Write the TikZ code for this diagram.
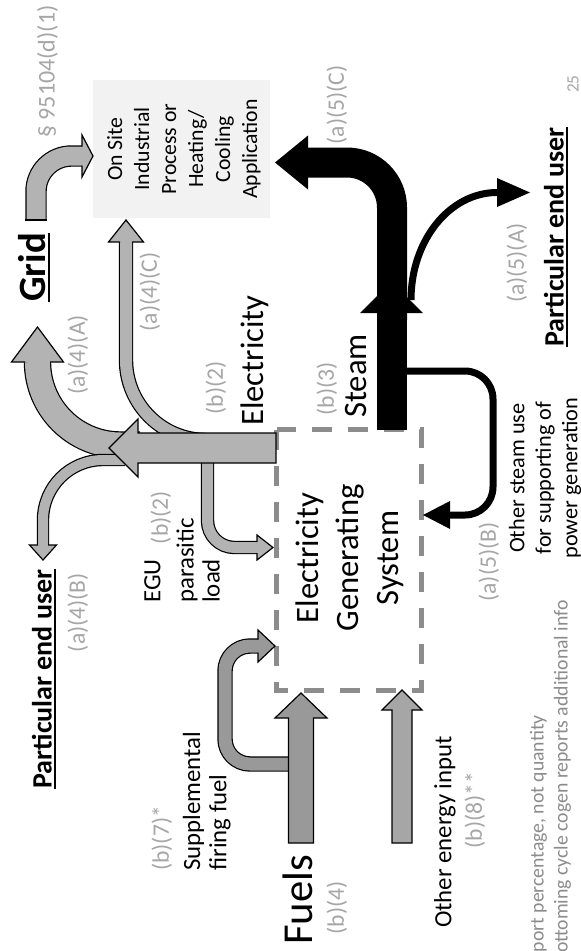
\documentclass[tikz,border=0pt]{standalone}
\usepackage{fontspec}
\setmainfont{Carlito}
\definecolor{lblgray}{HTML}{A6A6A6}
\definecolor{elec}{HTML}{B3B3B3}
\definecolor{fuel}{HTML}{999999}
\definecolor{otherg}{HTML}{A6A6A6}
\definecolor{dashgray}{HTML}{8C8C8C}
\definecolor{onsitefill}{HTML}{F2F2F2}
\definecolor{footgray}{HTML}{8C8C8C}
\begin{document}
\begin{tikzpicture}[x=0.75pt,y=-0.75pt,line join=miter,
  lbl/.style={rotate=90,inner sep=0pt,text=lblgray,font=\fontsize{17.7}{21}\selectfont},
  txt/.style={rotate=90,inner sep=0pt,text=black},
  mid/.style={txt,font=\fontsize{18.6}{22}\selectfont},
  big/.style={txt,font=\fontsize{24.5}{30}\selectfont},
  boldtxt/.style={txt,font=\bfseries\fontsize{21}{25}\selectfont},
  outl/.style={draw=black,line width=0.9pt},
  band/.style 2 args={draw=#2,line width=#1,preaction={draw=black,line width=#1+1.8pt}},
  head/.style={fill=#1,draw=black,line width=0.9pt},
]
\useasboundingbox (0,0) rectangle (581,951);
\fill[white] (0,0) rectangle (581,951);

% On site box
\fill[onsitefill] (93,80) rectangle (270,218);
% Electricity generating system box
\draw[dashgray,line width=3.75pt,dash pattern=on 15pt off 12pt] (276.5,429.5) rectangle (421.5,690);

% Grid arrow
\draw[band={14.25pt}{elec},rounded corners=26.6pt] (36,220) -- (36,156) -- (82,156);
\draw[outl] (25.3,220) -- (46.7,220);
\filldraw[head=elec] (82,165.5) -- (82,177) -- (93,156) -- (82,135) -- (82,146.5);

% (a)(4)(C)
\draw[band={9pt}{elec},rounded corners=60pt] (206,440) -- (126,440) -- (126,242);
\filldraw[head=elec] (132,242) -- (143.5,242) -- (126,220) -- (108.5,242) -- (120,242);

% (a)(4)(A)
\draw[band={18.75pt}{elec},rounded corners=62.25pt] (140,445) -- (37.5,445) -- (37.5,362);
\filldraw[head=elec] (50,362) -- (63.5,362) -- (37.5,327) -- (11.5,362) -- (25,362);

% (a)(4)(B)
\draw[band={7.5pt}{elec},rounded corners=45pt] (125,460) -- (43,460) -- (43,545);
\filldraw[head=elec] (48,545) -- (56.5,545) -- (43,560) -- (29.5,545) -- (38,545);

% parasitic load
\draw[band={8.25pt}{elec},rounded corners=20.25pt] (207.5,455) -- (207.5,547.5) -- (257,547.5);
\filldraw[head=elec] (257,553) -- (257,560) -- (273,547.5) -- (257,535) -- (257,542);

% main electricity arrow
\filldraw[head=elec] (276,433) -- (138,433) -- (138,419) -- (109,448) -- (138,477) -- (138,463) -- (276,463) -- cycle;

% supplemental firing fuel
\draw[band={9.75pt}{fuel},rounded corners=18.75pt] (300,764) -- (225,764) -- (225,646) -- (258,646);
\filldraw[head=fuel] (258,652.5) -- (258,662) -- (275,646) -- (258,630) -- (258,639.5);
% fuels
\filldraw[head=fuel] (288.5,843) -- (288.5,718) -- (275,718) -- (301,693) -- (327,718) -- (313.5,718) -- (313.5,843) -- cycle;
% other energy input
\filldraw[head=otherg] (392,843) -- (392,710) -- (382,710) -- (402,690) -- (422,710) -- (412,710) -- (412,843) -- cycle;

% steam
\fill[black] (377,430) rectangle (407,313);
\fill[black] (360,313) -- (423,313) -- (391.5,281.5) -- cycle;
\draw[black,line width=22.5pt,rounded corners=33.75pt] (392,320) -- (392,162.5) -- (308,162.5);
\fill[black] (308,135.5) -- (308,189.5) -- (275,162.5) -- cycle;
\draw[black,line width=5.25pt] (411,300) .. controls (411,240) and (450,192.5) .. (497,192.5);
\fill[black] (497,178) -- (497,207) -- (530,192.5) -- cycle;
\draw[black,line width=5.25pt,rounded corners=21pt] (405,371) -- (493,371) -- (493,515) -- (450,515);
\fill[black] (450,501) -- (450,529) -- (423,515) -- cycle;

% texts
\node[lbl,font=\fontsize{18}{21}\selectfont] (sec) at (47.5,71.5) {§ 95104(d)(1)};
\node[txt,font=\bfseries\fontsize{29}{34}\selectfont] (grid) at (32.5,267.5) {Grid};
\draw[line width=1.8pt] ([xshift=2.25pt]grid.base west) -- ([xshift=2.25pt]grid.base east);
\node[txt,font=\fontsize{16.3}{20.25}\selectfont,align=center] (onsite) at (184,149)
  {On Site\\Industrial\\Process or\\Heating/\\Cooling\\Application};
\node[lbl] (a4C) at (150,292) {(a)(4)(C)};
\node[lbl] (a4A) at (78,355) {(a)(4)(A)};
\node[lbl] (b2a) at (216,388) {(b)(2)};
\node[big] (elecl) at (255,360.5) {Electricity};
\node[lbl] (b3) at (327,389) {(b)(3)};
\node[big] (steaml) at (356.5,376) {Steam};
\node[lbl] (a5C) at (337,105) {(a)(5)(C)};
\node[lbl] (a5A) at (517,263) {(a)(5)(A)};
\node[boldtxt] (peuA) at (554,237) {Particular end user};
\draw[line width=1.5pt] ([xshift=2.25pt]peuA.base west) -- ([xshift=2.25pt]peuA.base east);
\node[lbl,font=\fontsize{13}{16}\selectfont] (pagenum) at (573,84) {25};
\node[boldtxt] (peuB) at (42,679) {Particular end user};
\draw[line width=1.5pt] ([xshift=2.25pt]peuB.base west) -- ([xshift=2.25pt]peuB.base east);
\node[lbl] (a4B) at (78,612.5) {(a)(4)(B)};
\node[mid,anchor=west] (egu) at (152.5,603) {EGU};
\node[mid,anchor=west] (para) at (187,603) {parasitic};
\node[mid,anchor=west] (load) at (211,603) {load};
\node[lbl] (b2b) at (161,517.5) {(b)(2)};
\node[lbl,anchor=west] (b7) at (162,871) {(b)(7)*};
\node[mid,anchor=west] (supp) at (193.5,871) {Supplemental};
\node[mid,anchor=west] (firing) at (220,871) {firing fuel};
\node[big,align=center] (egs) at (350,558) {Electricity\\Generating\\System};
\node[txt,font=\fontsize{32}{38}\selectfont] (fuels) at (298,900) {Fuels};
\node[lbl] (b4) at (337,908) {(b)(4)};
\node[mid] (otherin) at (445,832) {Other energy input};
\node[lbl] (b8) at (475,810) {(b)(8)**};
\node[lbl] (a5B) at (489,562) {(a)(5)(B)};
\node[txt,font=\fontsize{16.7}{19.9}\selectfont,align=center] (othersteam) at (545,478)
  {Other steam use\\for supporting of\\power generation};
\node[txt,text=footgray,font=\fontsize{14.8}{18}\selectfont,anchor=east] (foot1) at (538.5,715) {port percentage, not quantity};
\node[txt,text=footgray,font=\fontsize{14.8}{18}\selectfont,anchor=east] (foot2) at (562.5,600) {ottoming cycle cogen reports additional info};
\end{tikzpicture}
\end{document}
